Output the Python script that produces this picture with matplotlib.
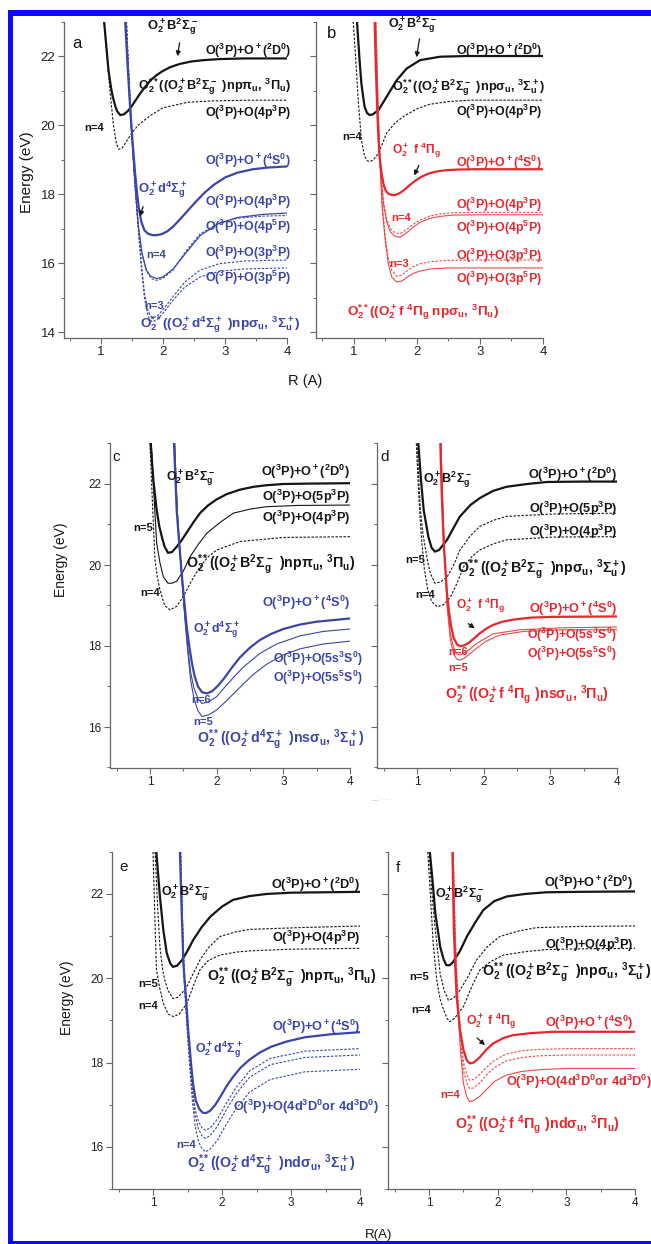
import numpy as np
import matplotlib
matplotlib.use('Agg')
import matplotlib.pyplot as plt
from matplotlib.patches import Rectangle, FancyArrowPatch

plt.rcParams['font.family'] = 'Liberation Sans'
plt.rcParams['mathtext.fontset'] = 'custom'
plt.rcParams['mathtext.rm'] = 'Liberation Sans'
plt.rcParams['mathtext.default'] = 'regular'

#%% Potential curves (R in Angstrom, E in eV)
# panel a
aB_R  = [1.05,1.09,1.12,1.16,1.19,1.23,1.26,1.31,1.37,1.44,1.5,1.57,1.64,1.72,1.8,1.9,2.0,2.12,2.27,2.45,2.65,2.9,3.3,4.0]
aB_E  = [23.0,22.2,21.6,21.1,20.82,20.55,20.4,20.29,20.31,20.42,20.56,20.75,20.94,21.12,21.3,21.45,21.57,21.68,21.77,21.84,21.88,21.91,21.93,21.93]
aB4_R = [1.05,1.1,1.15,1.2,1.25,1.29,1.34,1.4,1.5,1.6,1.8,2.0,2.4,2.8,3.4,4.0]
aB4_E = [23.0,21.9,20.9,20.0,19.45,19.3,19.33,19.5,19.77,20.0,20.28,20.5,20.66,20.7,20.72,20.72]
aD_R  = [1.39,1.41,1.43,1.45,1.47,1.49,1.51,1.53,1.55,1.58,1.61,1.65,1.7,1.76,1.83,1.9,1.98,2.07,2.17,2.28,2.4,2.53,2.67,2.82,3.0,3.2,3.45,3.7,4.0]
aD_E  = [23.0,22.35,21.7,21.1,20.5,20.0,19.5,19.05,18.6,18.05,17.6,17.2,16.95,16.85,16.81,16.81,16.84,16.92,17.07,17.28,17.52,17.78,18.04,18.27,18.48,18.62,18.72,18.77,18.8]
aD4_R = [1.4,1.44,1.48,1.52,1.56,1.6,1.66,1.73,1.8,1.9,2.0,2.16,2.35,2.6,2.9,3.2,3.6,4.0]
aD4_E = [23.0,21.5,20.2,19.0,18.0,17.1,16.3,15.8,15.62,15.55,15.6,15.82,16.25,16.8,17.15,17.32,17.41,17.45]
aD4b_R = [1.41,1.45,1.49,1.53,1.57,1.61,1.67,1.74,1.81,1.9,2.0,2.16,2.35,2.6,2.9,3.2,3.6,4.0]
aD4b_E = [23.0,21.4,20.0,18.8,17.8,16.9,16.2,15.75,15.55,15.5,15.56,15.8,16.3,16.85,17.15,17.3,17.36,17.38]
aD3_R  = [1.41,1.45,1.5,1.55,1.6,1.65,1.7,1.76,1.82,1.9,2.0,2.15,2.35,2.6,2.9,3.3,4.0]
aD3_E  = [23.0,21.3,19.6,18.2,17.0,15.9,15.0,14.45,14.3,14.35,14.55,14.9,15.3,15.6,15.76,15.83,15.86]
aD3b_E = [23.0,21.4,19.7,18.3,17.1,16.0,15.15,14.6,14.42,14.45,14.65,15.0,15.45,15.8,15.98,16.06,16.09]

# panel b
bB_R  = [1.05,1.09,1.12,1.17,1.21,1.25,1.3,1.39,1.52,1.68,1.84,2.05,2.37,2.8,3.4,4.0]
bB_E  = [23.0,21.9,21.2,20.53,20.35,20.29,20.31,20.43,20.82,21.3,21.64,21.88,21.98,22.0,22.0,22.0]
bB4_R = [0.99,1.03,1.07,1.12,1.17,1.21,1.25,1.3,1.36,1.44,1.52,1.65,1.78,2.0,2.2,2.5,2.84,3.4,4.0]
bB4_E = [23.0,21.9,20.72,19.57,19.1,18.97,18.94,18.98,19.1,19.4,19.77,20.05,20.24,20.47,20.6,20.68,20.72,20.72,20.72]
bF_R  = [1.33,1.35,1.37,1.39,1.41,1.44,1.47,1.5,1.54,1.59,1.65,1.72,1.8,1.88,1.97,2.07,2.18,2.3,2.45,2.65,2.9,3.3,4.0]
bF_E  = [23.0,21.6,20.5,19.6,19.05,18.6,18.3,18.12,18.02,17.98,17.97,18.02,18.12,18.25,18.38,18.5,18.59,18.65,18.69,18.71,18.72,18.72,18.72]
bF4_R = [1.34,1.37,1.4,1.43,1.47,1.52,1.58,1.65,1.73,1.82,1.94,2.05,2.21,2.4,2.57,3.0,4.0]
bF4_E = [23.0,21.0,19.5,18.5,17.7,17.2,16.9,16.78,16.75,16.85,17.04,17.18,17.3,17.36,17.39,17.4,17.4]
bF4b_E = [23.0,21.1,19.6,18.6,17.8,17.3,17.0,16.88,16.85,16.95,17.12,17.25,17.37,17.43,17.46,17.47,17.47]
bF3_R  = [1.35,1.38,1.41,1.45,1.5,1.55,1.6,1.68,1.76,1.85,1.94,2.05,2.21,2.5,3.0,4.0]
bF3_E  = [23.0,20.8,19.0,17.6,16.6,15.95,15.6,15.45,15.48,15.6,15.7,15.77,15.83,15.86,15.86,15.86]
bF3b_E = [23.0,20.9,19.1,17.7,16.75,16.1,15.8,15.62,15.65,15.78,15.9,15.98,16.04,16.08,16.09,16.09]

# panel c
cB_R  = [1.01,1.05,1.1,1.14,1.18,1.22,1.27,1.33,1.4,1.47,1.55,1.65,1.75,1.87,2.0,2.15,2.35,2.55,2.75,3.0,3.4,4.0]
cB_E  = [23.0,22.1,21.36,20.95,20.68,20.45,20.3,20.32,20.45,20.6,20.8,21.05,21.28,21.47,21.62,21.75,21.86,21.93,21.97,22.0,22.01,22.02]
cB5_R = [1.02,1.06,1.1,1.15,1.2,1.27,1.33,1.4,1.5,1.6,1.72,1.85,2.05,2.25,2.5,2.75,3.2,4.0]
cB5_E = [23.0,21.7,20.54,20.05,19.71,19.55,19.55,19.6,19.85,20.2,20.5,20.78,21.05,21.28,21.38,21.44,21.47,21.48]
cB4_R = [1.0,1.04,1.075,1.11,1.15,1.22,1.3,1.4,1.5,1.62,1.75,1.87,2.0,2.35,3.0,4.0]
cB4_E = [23.0,21.4,20.12,19.7,19.38,19.0,18.89,18.98,19.22,19.6,19.96,20.2,20.37,20.58,20.68,20.7]
cD_R  = [1.36,1.38,1.4,1.44,1.48,1.52,1.55,1.59,1.63,1.67,1.72,1.78,1.85,1.93,2.02,2.12,2.23,2.35,2.5,2.65,2.82,3.0,3.25,3.5,4.0]
cD_E  = [23.0,22.2,21.36,20.5,19.71,19.0,18.48,17.98,17.57,17.25,17.0,16.86,16.83,16.88,17.02,17.22,17.47,17.72,17.96,18.15,18.3,18.42,18.53,18.6,18.68]
cD6_R = [1.37,1.39,1.41,1.45,1.49,1.53,1.57,1.61,1.66,1.72,1.78,1.88,2.0,2.12,2.25,2.4,2.65,2.9,3.25,3.6,4.0]
cD6_E = [23.0,22.1,21.3,20.3,19.4,18.6,17.9,17.35,16.95,16.7,16.58,16.62,16.75,16.98,17.22,17.48,17.82,18.05,18.25,18.36,18.42]
cD5_R = [1.37,1.39,1.41,1.45,1.49,1.53,1.57,1.61,1.66,1.72,1.78,1.88,2.0,2.15,2.35,2.55,2.75,3.0,3.25,3.6,4.0]
cD5_E = [23.0,22.1,21.3,20.3,19.4,18.55,17.8,17.15,16.7,16.4,16.26,16.3,16.42,16.65,16.98,17.3,17.55,17.78,17.93,18.05,18.12]

# panel d
dB_R  = [1.02,1.06,1.1,1.17,1.22,1.27,1.33,1.45,1.64,1.8,1.94,2.14,2.34,2.65,2.95,3.5,4.0]
dB_E  = [23.0,22.1,21.36,20.7,20.42,20.33,20.37,20.62,21.19,21.48,21.65,21.83,21.93,22.0,22.05,22.06,22.06]
dB5_R = [1.0,1.05,1.09,1.13,1.17,1.2,1.27,1.35,1.45,1.55,1.64,1.8,1.94,2.14,2.34,3.05,4.0]
dB5_E = [23.0,21.36,20.75,20.37,20.0,19.8,19.55,19.58,19.7,20.0,20.36,20.72,20.95,21.1,21.2,21.26,21.28]
dB4_R = [0.99,1.03,1.07,1.11,1.16,1.22,1.3,1.4,1.5,1.6,1.7,1.82,1.94,2.14,2.34,3.05,4.0]
dB4_E = [23.0,21.6,20.6,19.9,19.4,19.1,18.97,19.02,19.2,19.55,19.96,20.2,20.37,20.52,20.62,20.69,20.7]
dF_R  = [1.35,1.37,1.4,1.43,1.45,1.48,1.51,1.55,1.6,1.64,1.7,1.77,1.85,1.94,2.04,2.14,2.28,2.44,2.7,3.05,4.0]
dF_E  = [23.0,21.8,20.54,19.8,19.3,18.85,18.5,18.2,18.04,18.0,18.01,18.07,18.18,18.31,18.43,18.52,18.6,18.65,18.7,18.72,18.73]
dF6_R = [1.36,1.38,1.41,1.45,1.5,1.55,1.6,1.64,1.7,1.79,1.89,2.14,2.54,3.2,4.0]
dF6_E = [23.0,21.8,20.4,19.1,18.3,17.95,17.8,17.78,17.82,17.92,18.06,18.3,18.4,18.45,18.47]
dF5_R = [1.36,1.38,1.41,1.45,1.5,1.55,1.6,1.64,1.7,1.79,1.89,2.04,2.24,2.6,3.2,4.0]
dF5_E = [23.0,21.8,20.4,19.0,18.15,17.8,17.67,17.65,17.69,17.8,17.94,18.12,18.27,18.36,18.4,18.4]

# panel e
eB_R  = [1.05,1.1,1.15,1.2,1.25,1.29,1.35,1.42,1.5,1.58,1.7,1.83,2.0,2.16,2.4,2.65,3.0,4.0]
eB_E  = [22.97,21.94,21.14,20.59,20.35,20.27,20.3,20.43,20.65,20.9,21.2,21.46,21.7,21.86,21.95,22.0,22.03,22.05]
eB5_R = [1.03,1.07,1.1,1.14,1.17,1.22,1.29,1.36,1.42,1.49,1.58,1.68,1.8,1.97,2.2,2.41,3.1,4.0]
eB5_E = [23.0,21.6,20.75,20.2,19.96,19.7,19.52,19.55,19.65,19.8,20.1,20.43,20.72,20.99,21.1,21.16,21.2,21.24]
eB4_R = [1.0,1.03,1.05,1.1,1.15,1.22,1.3,1.38,1.49,1.58,1.68,1.8,1.97,2.2,2.41,3.0,4.0]
eB4_E = [23.0,21.3,20.2,19.75,19.4,19.15,19.09,19.15,19.4,19.8,20.2,20.42,20.55,20.62,20.65,20.69,20.71]
eD_R  = [1.39,1.41,1.44,1.48,1.51,1.55,1.58,1.62,1.67,1.72,1.77,1.83,1.9,1.98,2.07,2.16,2.27,2.4,2.55,2.72,2.94,3.2,3.57,4.0]
eD_E  = [23.0,21.9,20.35,19.5,18.77,18.0,17.5,17.1,16.9,16.81,16.8,16.86,16.99,17.2,17.45,17.66,17.88,18.07,18.24,18.38,18.5,18.6,18.67,18.72]
eDn_R  = [1.4,1.42,1.45,1.49,1.53,1.57,1.61,1.66,1.71,1.76,1.83,1.93,2.05,2.2,2.4,2.7,3.2,4.0]
eDa_E  = [23.0,21.8,20.2,19.1,18.2,17.4,16.9,16.6,16.45,16.39,16.45,16.65,17.0,17.4,17.8,18.1,18.27,18.33]
eDb_E  = [23.0,21.8,20.1,19.0,18.1,17.3,16.75,16.42,16.26,16.2,16.27,16.48,16.84,17.25,17.65,17.95,18.12,18.18]
eDc_E  = [23.0,21.7,20.0,18.9,17.95,17.1,16.5,16.12,15.95,15.88,15.95,16.15,16.5,16.9,17.3,17.6,17.78,17.84]

# panel f
fB_R  = [1.01,1.05,1.09,1.13,1.16,1.21,1.25,1.3,1.35,1.45,1.55,1.67,1.79,1.95,2.13,2.4,2.71,3.2,4.0]
fB_E  = [23.0,22.3,21.54,21.1,20.75,20.45,20.31,20.31,20.39,20.65,20.99,21.32,21.62,21.83,21.94,22.0,22.04,22.05,22.06]
fB5_R = [1.0,1.04,1.09,1.13,1.16,1.22,1.28,1.35,1.45,1.57,1.69,1.85,2.03,2.3,2.56,3.2,4.0]
fB5_E = [23.0,22.0,21.14,20.55,20.11,19.7,19.48,19.52,19.72,20.05,20.43,20.75,20.99,21.12,21.2,21.23,21.24]
fB4_R = [0.98,1.02,1.06,1.11,1.16,1.21,1.26,1.3,1.37,1.5,1.62,1.74,1.9,2.08,2.4,2.71,3.3,4.0]
fB4_E = [23.0,21.9,20.8,19.96,19.5,19.25,19.05,18.97,19.05,19.33,19.8,20.2,20.4,20.55,20.63,20.68,20.7,20.71]
fF_R  = [1.34,1.35,1.36,1.38,1.4,1.45,1.5,1.55,1.59,1.65,1.74,1.83,1.93,2.08,2.22,2.5,2.8,3.4,4.0]
fF_E  = [23.0,22.0,21.14,20.3,19.56,18.77,18.3,18.05,17.98,18.0,18.13,18.3,18.45,18.58,18.65,18.7,18.73,18.73,18.73]
fFn_R = [1.35,1.37,1.39,1.42,1.46,1.5,1.55,1.59,1.65,1.74,1.83,1.95,2.12,2.35,2.6,3.0,4.0]
fFa_E = [23.0,21.6,20.6,19.5,18.6,18.0,17.7,17.58,17.6,17.72,17.88,18.05,18.2,18.28,18.31,18.33,18.33]
fFb_E = [23.0,21.5,20.5,19.4,18.45,17.8,17.5,17.38,17.4,17.52,17.7,17.88,18.04,18.12,18.16,18.18,18.18]
fF4_E = [23.0,21.5,20.4,19.2,18.2,17.5,17.18,17.07,17.1,17.2,17.35,17.55,17.7,17.79,17.83,17.86,17.86]

#%% Text
B_ST   = r"O$_2^+$B$^2\Sigma_g^-$"
D_ST   = r"O$_2^+$d$^4\Sigma_g^+$"
F_ST   = r"O$_2^+$ f $^4\Pi_g$"
L_2D   = r"O($^3$P)+O$^+$($^2$D$^0$)"
L_4S   = r"O($^3$P)+O$^+$($^4$S$^0$)"
L_4p3  = r"O($^3$P)+O(4p$^3$P)"
L_4p5  = r"O($^3$P)+O(4p$^5$P)"
L_3p3  = r"O($^3$P)+O(3p$^3$P)"
L_3p5  = r"O($^3$P)+O(3p$^5$P)"
L_5p3  = r"O($^3$P)+O(5p$^3$P)"
L_5s3  = r"O($^3$P)+O(5s$^3$S$^0$)"
L_5s5  = r"O($^3$P)+O(5s$^5$S$^0$)"
L_4d   = r"O($^3$P)+O(4d$^3$D$^0$or 4d$^3$D$^0$)"
RY_Bpi = r"O$_2^{**}$((O$_2^+$B$^2\Sigma_g^-\ $)np$\pi_u$, $^3\Pi_u$)"
RY_Bsg = r"O$_2^{**}$((O$_2^+$B$^2\Sigma_g^-\ $)np$\sigma_u$, $^3\Sigma_u^+$)"
RY_Dnp = r"O$_2^{**}$((O$_2^+$d$^4\Sigma_g^+\ $)np$\sigma_u$, $^3\Sigma_u^+$)"
RY_Fnp = r"O$_2^{**}$((O$_2^+$f $^4\Pi_g$ np$\sigma_u$, $^3\Pi_u$)"
RY_Dns = r"O$_2^{**}$((O$_2^+$d$^4\Sigma_g^+\ $)ns$\sigma_u$, $^3\Sigma_u^+$)"
RY_Fns = r"O$_2^{**}$((O$_2^+$f $^4\Pi_g\ $)ns$\sigma_u$, $^3\Pi_u$)"
RY_Dnd = r"O$_2^{**}$((O$_2^+$d$^4\Sigma_g^+\ $)nd$\sigma_u$, $^3\Sigma_u^+$)"
RY_Fnd = r"O$_2^{**}$((O$_2^+$f $^4\Pi_g\ $)nd$\sigma_u$, $^3\Pi_u$)"

#%% Figure
W, H = 651, 1244
fig = plt.figure(figsize=(W/100, H/100), dpi=100)

K   = '#151515'
BL  = '#3b45a8'
RD  = '#e8262c'
RDt = '#ec4a4a'
GR  = '#666666'

# font sizes: top row / lower rows
LS1, RS1 = 8.9, 9.2
LS2, RS2 = 9.2, 10.2
NS = 8
THICK = 1.6

def make_ax(l, r, t, b, ylim, ylabels, tsize):
    ax = fig.add_axes([l/W, 1-b/H, (r-l)/W, (b-t)/H])
    ax.set_xlim(0.4, 4.0)
    ax.set_ylim(*ylim)
    for s in ['top', 'right']:
        ax.spines[s].set_visible(False)
    for s in ['left', 'bottom']:
        ax.spines[s].set_color(GR)
        ax.spines[s].set_linewidth(0.9)
    ax.set_xticks([1, 2, 3, 4])
    ax.set_xticks([0.5, 1.5, 2.5, 3.5], minor=True)
    yt = np.arange(14, 23.1, 2) if ylim[0] < 14 else np.arange(16, 23.1, 2)
    ax.set_yticks(yt)
    ax.set_yticks(np.arange(np.ceil(ylim[0]), 23.1, 1), minor=True)
    ax.tick_params(which='major', direction='out', length=4, width=0.8, color=GR,
                   labelsize=tsize, labelcolor='#222222', pad=2)
    ax.tick_params(which='minor', direction='out', length=2.2, width=0.7, color=GR)
    if not ylabels:
        ax.set_yticklabels([])
    ax.patch.set_alpha(0)
    return ax

def line(ax, R, E, c, lw=0.8, ls='-'):
    if ls == '--':
        ax.plot(R, E, color=c, lw=lw, dashes=(2.2, 1.4))
    else:
        ax.plot(R, E, color=c, lw=lw)

def lab(x, y, s, c=K, size=8, ha='left', bold=True, rot=0):
    fig.text(x/W, 1-y/H, s, color=c, fontsize=size, ha=ha, va='center', rotation=rot,
             fontweight='bold' if bold else 'normal')

def arrow(x0, y0, x1, y1):
    fig.add_artist(FancyArrowPatch((x0/W, 1-y0/H), (x1/W, 1-y1/H), transform=fig.transFigure,
                                   arrowstyle='-|>', mutation_scale=7, color=K, lw=0.9))

# ---- panel a
ax = make_ax(63.8, 287, 21.5, 338, (13.83, 23.0), True, 9.5)
line(ax, aB_R, aB_E, K, THICK)
line(ax, aB4_R, aB4_E, K, 0.8, '--')
line(ax, aD3_R, aD3_E, BL, 0.8, '--')
line(ax, aD3_R, aD3b_E, BL, 0.8, '--')
line(ax, aD4b_R, aD4b_E, BL, 0.8, '--')
line(ax, aD4_R, aD4_E, BL, 0.9)
line(ax, aD_R, aD_E, BL, THICK)

# ---- panel b
ax = make_ax(316, 543, 21.5, 338, (13.83, 23.0), False, 9.5)
line(ax, bB_R, bB_E, K, THICK)
line(ax, bB4_R, bB4_E, K, 0.8, '--')
line(ax, bF3_R, bF3_E, RDt, 0.8)
line(ax, bF3_R, bF3b_E, RDt, 0.8, '--')
line(ax, bF4_R, bF4b_E, RDt, 0.8, '--')
line(ax, bF4_R, bF4_E, RDt, 0.8)
line(ax, bF_R, bF_E, RD, THICK)

# ---- panel c
ax = make_ax(110, 350, 443.5, 767.5, (15.0, 23.0), True, 8.5)
line(ax, cB_R, cB_E, K, THICK)
line(ax, cB5_R, cB5_E, K, 0.8)
line(ax, cB4_R, cB4_E, K, 0.8, '--')
line(ax, cD5_R, cD5_E, BL, 0.8)
line(ax, cD6_R, cD6_E, BL, 0.8)
line(ax, cD_R, cD_E, BL, THICK)

# ---- panel d
ax = make_ax(377, 617, 443.5, 767.5, (15.0, 23.0), False, 8.5)
line(ax, dB_R, dB_E, K, THICK)
line(ax, dB5_R, dB5_E, K, 0.8, '--')
line(ax, dB4_R, dB4_E, K, 0.8, '--')
line(ax, dF5_R, dF5_E, RDt, 0.8)
line(ax, dF6_R, dF6_E, RDt, 0.8)
line(ax, dF_R, dF_E, RD, THICK)

# ---- panel e
ax = make_ax(111.6, 360, 851.8, 1189, (15.0, 23.0), True, 8.5)
line(ax, eB_R, eB_E, K, THICK)
line(ax, eB5_R, eB5_E, K, 0.8, '--')
line(ax, eB4_R, eB4_E, K, 0.8, '--')
line(ax, eDn_R, eDc_E, BL, 0.8, '--')
line(ax, eDn_R, eDb_E, BL, 0.8, '--')
line(ax, eDn_R, eDa_E, BL, 0.8, '--')
line(ax, eD_R, eD_E, BL, THICK)

# ---- panel f
ax = make_ax(388, 635, 851.8, 1189, (15.0, 23.0), False, 8.5)
line(ax, fB_R, fB_E, K, THICK)
line(ax, fB5_R, fB5_E, K, 0.8, '--')
line(ax, fB4_R, fB4_E, K, 0.8, '--')
line(ax, fFn_R, fF4_E, RDt, 0.8)
line(ax, fFn_R, fFb_E, RDt, 0.8, '--')
line(ax, fFn_R, fFa_E, RDt, 0.8, '--')
line(ax, fF_R, fF_E, RD, THICK)

#%% Labels
# a
lab(72, 43, 'a', K, 12, bold=False)
lab(147, 27, B_ST, K, 9.4)
arrow(180, 40, 177, 59)
lab(291, 51, L_2D, K, LS1, 'right')
lab(291, 87, RY_Bpi, K, RS1, 'right')
lab(291, 113, L_4p3, K, LS1, 'right')
lab(84, 128, 'n=4', K, NS)
lab(291, 161, L_4S, BL, LS1, 'right')
lab(138, 190, D_ST, BL, 9.4)
arrow(144, 204, 139, 219)
lab(291, 202, L_4p3, BL, LS1, 'right')
lab(291, 227, L_4p5, BL, LS1, 'right')
lab(146, 255, 'n=4', BL, NS)
lab(291, 253, L_3p3, BL, LS1, 'right')
lab(291, 278, L_3p5, BL, LS1, 'right')
lab(144, 306, 'n=3', BL, NS)
lab(140, 325, RY_Dnp, BL, 9.7)
lab(27, 172, 'Energy (eV)', K, 11, 'center', False, 90)
lab(305, 381, 'R (A)', K, 10.5, 'center', False)

# b
lab(327, 33, 'b', K, 12, bold=False)
lab(388, 25, B_ST, K, 9)
arrow(420, 36, 416, 60)
lab(542, 51, L_2D, K, LS1, 'right')
lab(392, 88, RY_Bsg, K, RS1)
lab(542, 112, L_4p3, K, LS1, 'right')
lab(342, 137, 'n=4', K, NS)
lab(392, 150, F_ST, RD, 8.6)
arrow(420, 163, 413, 178)
lab(542, 163, L_4S, RD, LS1, 'right')
lab(542, 205, L_4p3, RD, LS1, 'right')
lab(542, 228, L_4p5, RD, LS1, 'right')
lab(391, 218, 'n=4', RD, NS)
lab(542, 256, L_3p3, RD, LS1, 'right')
lab(542, 279, L_3p5, RD, LS1, 'right')
lab(389, 264, 'n=3', RD, NS)
lab(347, 312, RY_Fnp, RD, 9.7)

# c
lab(112, 457, 'c', K, 11, bold=False)
lab(166, 478, B_ST, K, 9)
lab(350, 472, L_2D, K, LS2, 'right')
lab(350, 497, L_5p3, K, LS2, 'right')
lab(350, 518, L_4p3, K, LS2, 'right')
lab(133, 528, 'n=5', K, NS)
lab(140, 593, 'n=4', K, NS)
lab(186, 565, RY_Bpi, K, RS2)
lab(350, 603, L_4S, BL, LS2, 'right')
lab(193, 630, D_ST, BL, 8.8)
lab(363, 659, L_5s3, BL, 8.8, 'right')
lab(363, 678, L_5s5, BL, 8.8, 'right')
lab(191, 700, 'n=6', BL, NS)
lab(193, 722, 'n=5', BL, NS)
lab(197, 740, RY_Dns, BL, RS2)
lab(61, 560, 'Energy (eV)', K, 10, 'center', False, 90)
lab(382, 800, u'\u2014 \u00b7 \u00b7 \u00b7', '#bbbbbb', 5, 'center', False)

# d
lab(380, 457, 'd', K, 11, bold=False)
lab(423, 480, B_ST, K, 9)
lab(617, 475, L_2D, K, LS2, 'right')
lab(617, 509, L_5p3, K, LS2, 'right')
lab(617, 532, L_4p3, K, LS2, 'right')
lab(405, 560, 'n=5', K, NS)
lab(415, 595, 'n=4', K, NS)
lab(457, 570, RY_Bsg, K, RS2)
lab(456, 605, F_ST, RD, 8.6)
arrow(466, 622, 477, 630)
lab(617, 609, L_4S, RD, LS2, 'right')
lab(617, 635, L_5s3, RD, 8.8, 'right')
lab(617, 654, L_5s5, RD, 8.8, 'right')
lab(448, 652, 'n=6', RD, NS)
lab(448, 668, 'n=5', RD, NS)
lab(445, 695, RY_Fns, RD, RS2)

# e
lab(119, 867, 'e', K, 11, bold=False)
lab(161, 893, B_ST, K, 9)
lab(360, 885, L_2D, K, LS2, 'right')
lab(360, 938, L_4p3, K, LS2, 'right')
lab(207, 978, RY_Bpi, K, RS2)
lab(138, 984, 'n=5', K, NS)
lab(138, 1006, 'n=4', K, NS)
lab(360, 1027, L_4S, BL, LS2, 'right')
lab(195, 1050, D_ST, BL, 9)
lab(233, 1107, L_4d, BL, LS2)
lab(176, 1145, 'n=4', BL, NS)
lab(187, 1165, RY_Dnd, BL, RS2)
lab(67, 998, 'Energy (eV)', K, 10, 'center', False, 90)

# f
lab(396, 868, 'f', K, 11, bold=False)
lab(435, 895, B_ST, K, 9)
lab(633, 883, L_2D, K, LS2, 'right')
lab(633, 945, L_4p3, K, LS2, 'right')
lab(482, 973, RY_Bsg, K, RS2)
lab(409, 977, 'n=5', K, NS)
lab(411, 1010, 'n=4', K, NS)
lab(466, 1021, F_ST, RD, 8.8)
arrow(475, 1036, 487, 1047)
lab(633, 1023, L_4S, RD, LS2, 'right')
lab(506, 1082, L_4d, RD, LS2)
lab(440, 1095, 'n=4', RD, NS)
lab(455, 1125, RY_Fnd, RD, RS2)
lab(379, 1235, 'R(A)', K, 9.5, 'center', False)

#%% Blue frame
blue = '#0a0aff'
fig.add_artist(Rectangle((8/W, 1-1242/H), 5/W, 1232/H, transform=fig.transFigure, color=blue, lw=0))
fig.add_artist(Rectangle((8/W, 1-16/H), (W-8)/W, 6/H, transform=fig.transFigure, color=blue, lw=0))
fig.add_artist(Rectangle((8/W, 0), (W-8)/W, 3/H, transform=fig.transFigure, color=blue, lw=0))

fig.savefig('out.png', dpi=100)
